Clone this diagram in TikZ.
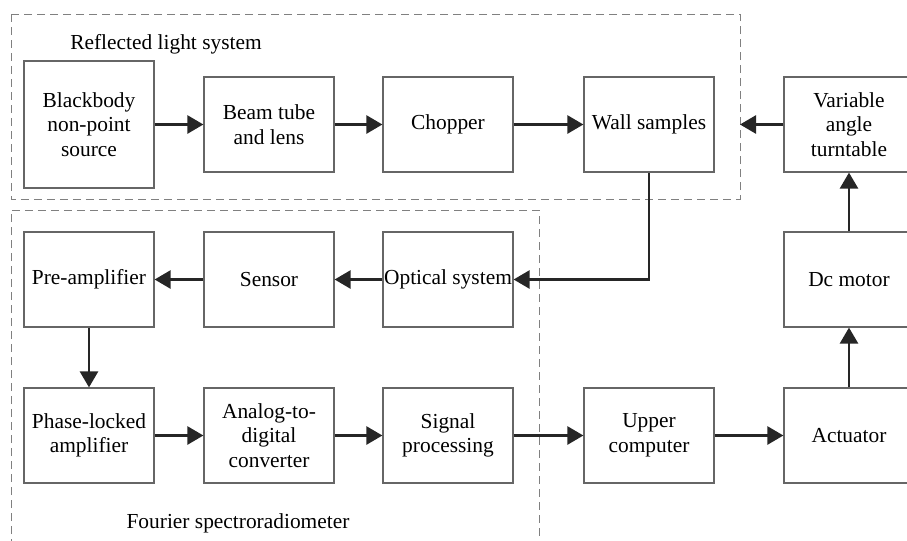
\documentclass[tikz,border=0pt]{standalone}
\usepackage{fontspec}
\setmainfont{Liberation Serif}
\usetikzlibrary{positioning, arrows.meta}

\begin{document}
\begin{tikzpicture}[x=0.5pt, y=-0.5pt,
        block/.style={draw=black!60, line width=0.6pt, minimum width=65pt,
            minimum height=47.5pt, align=center, inner sep=0.5pt,
            font=\fontsize{10.7}{12.3}\selectfont},
        caption/.style={font=\fontsize{10.7}{12.3}\selectfont},
        flow/.style={-{Triangle[length=8pt,width=9pt]}, line width=1.3pt, black!85},
        group/.style={dash pattern=on 4pt off 2.5pt, draw=black!50, line width=0.5pt}]
        \useasboundingbox (0,0) rectangle (907,541);
        \clip (0,0) rectangle (907,541);

        % Dashed groups
        \draw[group] (11,14) rectangle (740,199);
        \draw[group] (11,560) -- (11,210) -- (539,210) -- (539,560);
        \node[caption] (reflabel) at (166,44) {Reflected light system};
        \node[caption] (fourlabel) at (238,523) {Fourier spectroradiometer};

        % Top row
        \node[block, minimum height=63.5pt] (source) at (89,124.5) {Blackbody\\non-point\\source};
        \node[block] (beam) at (269,124.5) {Beam tube\\and lens};
        \node[block] (chopper) at (448,124.5) {Chopper};
        \node[block] (wall) at (649,124.5) {Wall samples};
        \node[block] (turntable) at (849,124.5) {Variable\\angle\\turntable};

        % Middle row
        \node[block] (preamp) at (89,279.5) {Pre-amplifier};
        \node[block] (sensor) at (269,279.5) {Sensor};
        \node[block] (optics) at (448,279.5) {Optical system};
        \node[block] (motor) at (849,279.5) {Dc motor};

        % Bottom row
        \node[block] (lockin) at (89,435.5) {Phase-locked\\amplifier};
        \node[block] (adc) at (269,435.5) {Analog-to-\\digital\\converter};
        \node[block] (signal) at (448,435.5) {Signal\\processing};
        \node[block] (upper) at (649,435.5) {Upper\\computer};
        \node[block] (actuator) at (849,435.5) {Actuator};

        % Free end on the dashed border
        \coordinate (edge) at (740,124.5);

        % Connections
        \draw[flow] (source) -- (beam);
        \draw[flow] (beam) -- (chopper);
        \draw[flow] (chopper) -- (wall);
        \draw[flow] (turntable) -- (edge);
        \draw[flow] (wall.south) |- (optics.east);
        \draw[flow] (optics) -- (sensor);
        \draw[flow] (sensor) -- (preamp);
        \draw[flow] (preamp) -- (lockin);
        \draw[flow] (lockin) -- (adc);
        \draw[flow] (adc) -- (signal);
        \draw[flow] (signal) -- (upper);
        \draw[flow] (upper) -- (actuator);
        \draw[flow] (actuator) -- (motor);
        \draw[flow] (motor) -- (turntable);
    \end{tikzpicture}
\end{document}
